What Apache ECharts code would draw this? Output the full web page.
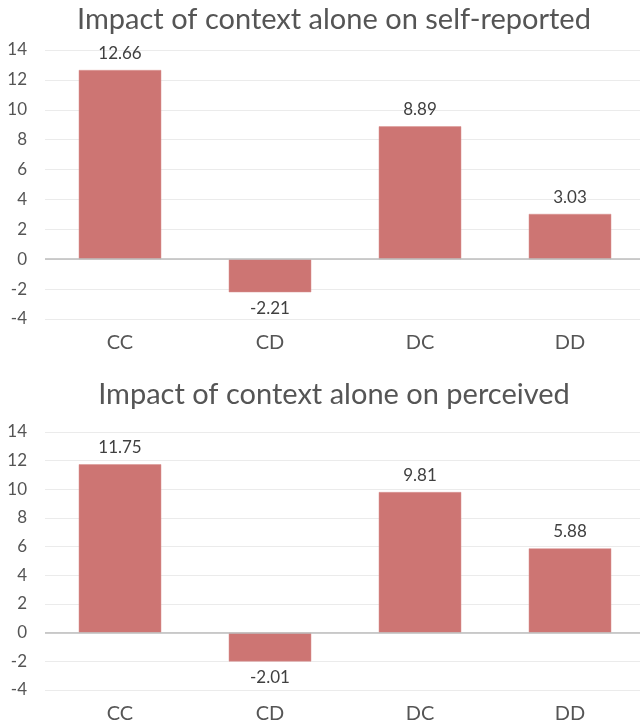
<!DOCTYPE html>
<html lang="en">
<head>
    <meta charset="UTF-8">
    <title>Impact of context alone</title>
    <script src="https://cdn.jsdelivr.net/npm/echarts@6/dist/echarts.min.js"></script>
    <style>
        html, body { margin: 0; padding: 0; background: #fff; }
        #main { width: 640px; height: 725px; }
    </style>
</head>
<body>
    <div id="main"></div>
    <script>
        // data
        var categories = ['CC', 'CD', 'DC', 'DD'];
        var selfReported = [12.66, -2.21, 8.89, 3.03];
        var perceived = [11.75, -2.01, 9.81, 5.88];
        var titles = ['Impact of context alone on self-reported', 'Impact of context alone on perceived'];

        var font = 'Lato, "Open Sans", sans-serif';
        var textColor = '#555555';
        var barColor = '#cd7573';

        var chart = echarts.init(document.getElementById('main'));

        function xAxisFor(i) {
            return {
                type: 'category',
                gridIndex: i,
                data: categories,
                position: 'bottom',
                axisLine: { show: false },
                axisTick: { show: false },
                axisLabel: {
                    color: textColor, fontFamily: font, fontSize: 20,
                    interval: 0, margin: 14
                }
            };
        }

        function yAxisFor(i) {
            return {
                type: 'value',
                gridIndex: i,
                min: -4, max: 14, interval: 2,
                axisLine: { show: false },
                axisTick: { show: false },
                axisLabel: { color: textColor, fontFamily: font, fontSize: 17, margin: 18 },
                splitLine: { lineStyle: { color: '#ebebeb', width: 1 } }
            };
        }

        function barsFor(i, values) {
            return {
                type: 'bar',
                xAxisIndex: i,
                yAxisIndex: i,
                barWidth: '55%',
                data: values,
                itemStyle: { color: barColor, borderColor: '#d99390', borderWidth: 0.5 },
                label: {
                    show: true,
                    distance: 8,
                    color: '#404040',
                    fontFamily: font,
                    fontSize: 17
                },
                markLine: {
                    silent: true,
                    symbol: 'none',
                    label: { show: false },
                    lineStyle: { color: '#bdbdbd', width: 1.5, type: 'solid' },
                    data: [{ yAxis: 0 }]
                }
            };
        }

        // negative bars get their label below
        function withLabelPos(values) {
            return values.map(function (v) {
                return { value: v, label: { position: v < 0 ? 'bottom' : 'top' } };
            });
        }

        var titleStyle = { color: textColor, fontFamily: font, fontSize: 29, fontWeight: 'normal' };

        var option = {
            animation: false,
            title: [
                { text: titles[0], left: 329, top: 0, textAlign: 'center', textStyle: titleStyle },
                { text: titles[1], left: 329, top: 375, textAlign: 'center', textStyle: titleStyle }
            ],
            // plot runs a little past the right edge, like the original
            grid: [
                { left: 45, width: 600, top: 50, height: 269, outerBoundsMode: 'none' },
                { left: 45, width: 600, top: 432, height: 258, outerBoundsMode: 'none' }
            ],
            xAxis: [xAxisFor(0), xAxisFor(1)],
            yAxis: [yAxisFor(0), yAxisFor(1)],
            series: [
                barsFor(0, withLabelPos(selfReported)),
                barsFor(1, withLabelPos(perceived))
            ]
        };

        chart.setOption(option);
    </script>
</body>
</html>
